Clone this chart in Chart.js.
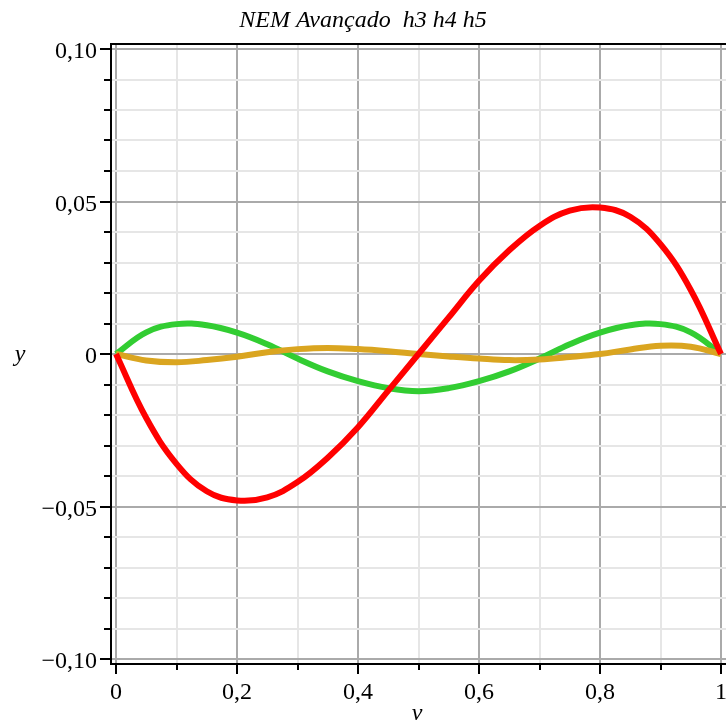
<!DOCTYPE html>
<html>
<head>
<meta charset="utf-8">
<script src="https://cdn.jsdelivr.net/npm/chart.js@4"></script>
<style>
  html, body { margin: 0; padding: 0; background: #fff; }
  #wrap { width: 726px; height: 727px; }
</style>
</head>
<body>
<div id="wrap"><canvas id="plot" width="726" height="727"></canvas></div>
<script>
// ---------- data ----------
const xs = [0, 0.05, 0.1, 0.15, 0.2, 0.25, 0.3, 0.35, 0.4, 0.45, 0.5,
            0.55, 0.6, 0.65, 0.7, 0.75, 0.8, 0.85, 0.9, 0.95, 1];
const h3 = [0, -0.021, -0.036, -0.045, -0.048, -0.047, -0.042, -0.034, -0.024, -0.012, 0,
            0.012, 0.024, 0.034, 0.042, 0.047, 0.048, 0.045, 0.036, 0.021, 0];
const h4 = [0, 0.0071, 0.0098, 0.0094, 0.0070, 0.0032, -0.0015, -0.0057, -0.0089, -0.0112, -0.0122,
            -0.0112, -0.0089, -0.0057, -0.0015, 0.0032, 0.0070, 0.0094, 0.0098, 0.0071, 0];
const h5 = [0, -0.0021, -0.0027, -0.0020, -0.0009, 0.0006, 0.0016, 0.0020, 0.0016, 0.0009, 0,
            -0.0008, -0.0015, -0.0020, -0.0018, -0.0010, 0.0000, 0.0015, 0.0027, 0.0024, 0];

// ticks
const xMajor = [0, 0.2, 0.4, 0.6, 0.8, 1];
const xLabels = ['0', '0,2', '0,4', '0,6', '0,8', '1'];
const xMinor = [0.1, 0.3, 0.5, 0.7, 0.9];
const yMajor = [-0.1, -0.05, 0, 0.05, 0.1];
const yLabels = ['\u22120,10', '\u22120,05', '0', '0,05', '0,10'];
const yMinor = [-0.09, -0.08, -0.07, -0.06, -0.04, -0.03, -0.02, -0.01,
                0.01, 0.02, 0.03, 0.04, 0.06, 0.07, 0.08, 0.09];

const TITLE = 'NEM Avançado  h3 h4 h5';
const SERIF = '"Liberation Serif", "Times New Roman", serif';

const near = (a, b) => Math.abs(a - b) < 1e-9;
const majorIdx = (list, v) => list.findIndex((m) => near(m, v));
const pts = (ys) => xs.map((x, i) => ({ x: x, y: ys[i] }));

// ---------- frame, tick marks and axis letters ----------
const frame = {
  id: 'frame',
  afterDraw(chart) {
    const { ctx, chartArea: a, scales } = chart;
    const sx = scales.x, sy = scales.y;
    ctx.save();
    ctx.strokeStyle = '#000';
    ctx.lineWidth = 2;
    ctx.beginPath();
    ctx.moveTo(a.right, a.top);
    ctx.lineTo(a.left + 1, a.top);
    ctx.lineTo(a.left + 1, a.bottom);
    ctx.lineTo(a.right, a.bottom);
    // y ticks
    yMajor.concat(yMinor).forEach((v) => {
      const p = Math.round(sy.getPixelForValue(v));
      const len = majorIdx(yMajor, v) >= 0 ? 10 : 6;
      ctx.moveTo(a.left, p);
      ctx.lineTo(a.left - len, p);
    });
    // x ticks
    xMajor.concat(xMinor).forEach((v) => {
      const p = Math.round(sx.getPixelForValue(v));
      const len = majorIdx(xMajor, v) >= 0 ? 10 : 6;
      ctx.moveTo(p, a.bottom);
      ctx.lineTo(p, a.bottom + len);
    });
    ctx.stroke();

    ctx.fillStyle = '#000';
    ctx.font = 'italic 24px ' + SERIF;
    ctx.textAlign = 'center';
    ctx.textBaseline = 'alphabetic';
    ctx.fillText('y', 20, 361);
    ctx.fillText('v', 417, 720);
    ctx.restore();
  },
};

const line = (data, color, order) => ({
  data: data,
  borderColor: color,
  borderWidth: 6,
  pointRadius: 0,
  tension: 0.4,
  fill: false,
  order: order,
});

new Chart(document.getElementById('plot'), {
  type: 'line',
  data: {
    datasets: [
      line(pts(h3), '#ff0000', 0),
      line(pts(h5), '#daa520', 1),
      line(pts(h4), '#32cd32', 2),
    ],
  },
  options: {
    responsive: false,
    animation: false,
    layout: { padding: 0, autoPadding: false },
    plugins: {
      legend: { display: false },
      tooltip: { enabled: false },
      title: {
        display: true,
        text: TITLE,
        color: '#000',
        font: { family: SERIF, size: 24, style: 'italic', weight: 'normal', lineHeight: 1.2 },
        padding: { top: 6, bottom: 9.2 },
      },
    },
    scales: {
      x: {
        type: 'linear',
        min: -6 / 605,
        max: 610 / 605,
        afterFit: (s) => { s.height = 63; s.paddingLeft = 0; s.paddingRight = 0; },
        afterBuildTicks: (s) => {
          s.ticks = xMajor.concat(xMinor).sort((p, q) => p - q).map((v) => ({ value: v }));
        },
        grid: {
          drawTicks: false,
          lineWidth: 2,
          color: (c) => (c.tick && majorIdx(xMajor, c.tick.value) >= 0 ? '#aaaaaa' : '#e6e6e6'),
        },
        border: { display: false },
        ticks: {
          autoSkip: false,
          maxRotation: 0,
          padding: 14,
          color: '#000',
          font: { family: SERIF, size: 24 },
          callback: (v) => { const i = majorIdx(xMajor, v); return i >= 0 ? xLabels[i] : ''; },
        },
      },
      y: {
        type: 'linear',
        min: -0.1 - 5 / 3050,
        max: 0.1 + 5 / 3050,
        afterFit: (s) => { s.width = 110; s.paddingTop = 0; s.paddingBottom = 0; },
        afterBuildTicks: (s) => {
          s.ticks = yMajor.concat(yMinor).sort((p, q) => p - q).map((v) => ({ value: v }));
        },
        grid: {
          drawTicks: false,
          lineWidth: 2,
          color: (c) => (c.tick && majorIdx(yMajor, c.tick.value) >= 0 ? '#aaaaaa' : '#e6e6e6'),
        },
        border: { display: false },
        ticks: {
          autoSkip: false,
          padding: 13,
          labelOffset: 3,
          color: '#000',
          font: { family: SERIF, size: 24 },
          callback: (v) => { const i = majorIdx(yMajor, v); return i >= 0 ? yLabels[i] : ''; },
        },
      },
    },
  },
  plugins: [frame],
});
</script>
</body>
</html>
